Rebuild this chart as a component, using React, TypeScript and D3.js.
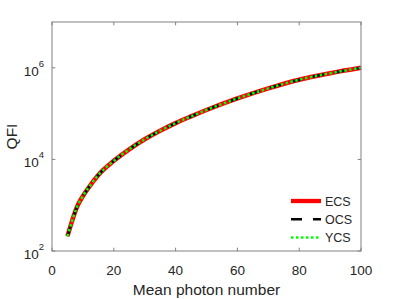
import * as d3 from "d3";
import React from "react";

// mean photon number (x) and quantum Fisher information
const photonNumbers = [5, 6, 8, 10, 12, 15, 20, 25, 30, 35, 40, 45, 50, 60, 70, 80, 90, 100];
const qfiECS = [210, 355, 890, 1580, 2500, 4570, 9300, 16600, 27500, 42200, 62000, 87000, 120000, 214000, 355000, 550000, 760000, 1000000];
const qfiOCS = [210, 355, 890, 1580, 2500, 4570, 9300, 16600, 27500, 42200, 62000, 87000, 120000, 214000, 355000, 550000, 760000, 1000000];
const qfiYCS = [210, 355, 890, 1580, 2500, 4570, 9300, 16600, 27500, 42200, 62000, 87000, 120000, 214000, 355000, 550000, 760000, 1000000];

const xTicks = [0, 20, 40, 60, 80, 100];
const yTicks = [1e2, 1e4, 1e6];
const seriesNames = ["ECS", "OCS", "YCS"];

const width = 399;
const height = 299;
const margin = { top: 22, right: 38, bottom: 48, left: 52 };
const axisColor = "#808080";
const textColor = "#262626";
const font = "'Liberation Sans', Arial, Helvetica, sans-serif";

export default function App() {
  const innerWidth = width - margin.left - margin.right;
  const innerHeight = height - margin.top - margin.bottom;

  const xScale = d3.scaleLinear().domain([0, 100]).range([0, innerWidth]);
  const yScale = d3.scaleLog().domain([1e2, 1e7]).range([innerHeight, 0]);

  const lineGenerator = d3
    .line<[number, number]>()
    .x((d) => xScale(d[0]))
    .y((d) => yScale(d[1]))
    .curve(d3.curveMonotoneX);

  const toPoints = (values: number[]) =>
    photonNumbers.map((n, i) => [n, values[i]] as [number, number]);

  // style per series, drawn in this order
  const styles = [
    { stroke: "#ff0000", width: 4.5, dash: "none", cap: "butt" },
    { stroke: "#000000", width: 2.5, dash: "11 11", cap: "butt" },
    { stroke: "#00ff00", width: 2.5, dash: "2.5 2.5", cap: "butt" },
  ];
  const series = [qfiECS, qfiOCS, qfiYCS];

  const exponent = (v: number) => Math.round(Math.log10(v));

  return (
    <svg
      width={width}
      height={height}
      style={{ position: "absolute", left: 0, top: 0, background: "#fff" }}
      fontFamily={font}
    >
      <g transform={`translate(${margin.left}, ${margin.top})`}>
        {/* curves */}
        {series.map((values, i) => (
          <path
            key={seriesNames[i]}
            d={lineGenerator(toPoints(values)) || ""}
            fill="none"
            stroke={styles[i].stroke}
            strokeWidth={styles[i].width}
            strokeDasharray={styles[i].dash}
            strokeLinecap={styles[i].cap as any}
          />
        ))}

        {/* box */}
        <rect
          x={0}
          y={0}
          width={innerWidth}
          height={innerHeight}
          fill="none"
          stroke={axisColor}
          strokeWidth={1}
        />

        {/* x ticks */}
        {xTicks.map((t) => (
          <g key={"x" + t} transform={`translate(${xScale(t)}, 0)`}>
            <line y1={innerHeight} y2={innerHeight - 3.3} stroke={axisColor} />
            <line y1={0} y2={3.3} stroke={axisColor} />
            <text
              y={innerHeight + 24}
              textAnchor="middle"
              fontSize={13.5}
              fill={textColor}
            >
              {t}
            </text>
          </g>
        ))}

        {/* y ticks */}
        {yTicks.map((t) => (
          <g key={"y" + t} transform={`translate(0, ${yScale(t)})`}>
            <line x1={0} x2={3.3} stroke={axisColor} />
            <line x1={innerWidth} x2={innerWidth - 3.3} stroke={axisColor} />
            <text x={-8} y={8} textAnchor="end" fill={textColor} fontSize={13.5}>
              10
              <tspan dy={-9} fontSize={9.5}>
                {exponent(t)}
              </tspan>
            </text>
          </g>
        ))}

        {/* axis labels */}
        <text
          x={innerWidth / 2}
          y={innerHeight + 44}
          textAnchor="middle"
          fontSize={15.5}
          fill={textColor}
        >
          Mean photon number
        </text>
        <text
          transform={`translate(${-35}, ${innerHeight / 2}) rotate(-90)`}
          textAnchor="middle"
          fontSize={15.5}
          fill={textColor}
        >
          QFI
        </text>

        {/* legend */}
        {seriesNames.map((name, i) => {
          const ly = 179 + i * 18.3;
          return (
            <g key={"leg" + name} transform={`translate(239, ${ly})`}>
              <line
                x1={0}
                x2={30}
                stroke={styles[i].stroke}
                strokeWidth={i === 0 ? 4.3 : styles[i].width}
                strokeDasharray={styles[i].dash}
              />
              <text x={34} y={4.5} fontSize={12.5} fill={textColor}>
                {name}
              </text>
            </g>
          );
        })}
      </g>
    </svg>
  );
}
